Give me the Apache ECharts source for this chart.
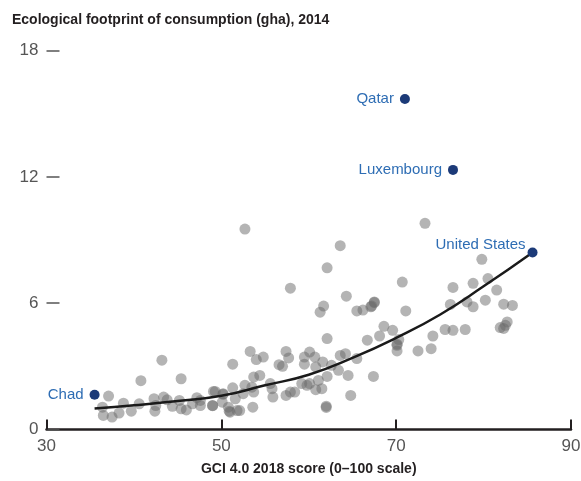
<!DOCTYPE html>
<html>
<head>
<meta charset="utf-8">
<script src="https://cdn.jsdelivr.net/npm/echarts@6/dist/echarts.min.js"></script>
<style>
  html, body { margin: 0; padding: 0; background: #fff; }
  #main { width: 581px; height: 481px; }
</style>
</head>
<body>
<div id="main"></div>
<script>
// GCI score (x) / ecological footprint (y), other countries
var gciScores = [37.1, 36.4, 36.5, 37.5, 38.3, 38.8, 39.7, 40.6, 40.8, 43.2, 42.4, 42.3, 42.5, 43.4, 43.8, 44.4,
    45.4, 45.2, 45.4, 46.0, 46.7, 47.2, 47.6, 49.0, 49.3, 50.2, 50.1, 50.9, 51.3, 51.3, 51.6, 51.8,
    52.7, 63.6, 62.1, 57.9, 64.3, 61.7, 61.3, 65.5, 66.2, 67.1, 67.5, 68.6, 69.6, 68.1, 66.7, 62.1,
    70.1, 53.3, 54.0, 54.8, 57.4, 57.7, 56.6, 57.0, 60.1, 59.5, 60.7, 59.5, 60.8, 61.6, 62.6, 63.6,
    64.2, 63.4, 64.5, 65.5, 67.4, 53.7, 54.4, 52.7, 53.5, 53.7, 52.5, 55.6, 55.8, 55.9, 57.4, 57.9,
    58.4, 59.2, 59.8, 60.1, 60.8, 61.5, 61.1, 62.1, 64.8, 62.0, 49.1, 50.2, 49.0, 50.8, 51.0, 52.1,
    53.6, 47.6, 70.1, 73.3, 79.8, 70.7, 76.5, 78.8, 80.5, 81.5, 67.5, 67.2, 71.1, 76.2, 78.1, 78.8,
    80.2, 82.3, 83.3, 70.3, 70.1, 74.2, 75.6, 76.5, 77.9, 72.5, 74.0, 81.9, 82.3, 82.7, 82.5, 62.0];
var footprints = [1.59, 1.06, 0.67, 0.59, 0.78, 1.25, 0.87, 1.22, 2.32, 3.29, 0.87, 1.46, 1.14, 1.54, 1.41, 1.10,
    2.41, 1.38, 0.98, 0.93, 1.22, 1.51, 1.14, 1.13, 1.81, 1.67, 1.30, 0.87, 3.10, 1.98, 1.46, 0.90,
    9.52, 8.73, 7.68, 6.71, 6.33, 5.86, 5.57, 5.63, 5.67, 5.83, 6.03, 4.90, 4.71, 4.44, 4.24, 4.32,
    3.73, 3.71, 3.32, 3.44, 3.71, 3.40, 3.08, 3.00, 3.68, 3.44, 3.44, 3.10, 2.97, 3.21, 3.05, 3.52,
    3.60, 2.81, 2.57, 3.37, 2.52, 2.49, 2.57, 2.10, 2.01, 1.78, 1.70, 2.18, 1.94, 1.54, 1.62, 1.78,
    1.78, 2.18, 2.10, 2.18, 1.89, 1.94, 2.33, 2.52, 1.62, 1.11, 1.81, 1.70, 1.14, 1.06, 0.82, 0.90,
    1.06, 1.38, 4.00, 9.79, 8.08, 7.00, 6.75, 6.94, 7.17, 6.62, 6.06, 5.86, 5.63, 5.94, 6.06, 5.83,
    6.14, 5.95, 5.89, 4.27, 4.05, 4.44, 4.75, 4.71, 4.75, 3.73, 3.84, 4.84, 4.80, 5.11, 4.95, 1.05];

// highlighted countries
var namedCountries = ['Qatar', 'Luxembourg', 'United States', 'Chad'];
var namedScores = [71.0, 76.5, 85.6, 35.5];
var namedFootprints = [15.7, 12.33, 8.41, 1.65];

// fitted trend line
var trendX = [35.5, 40, 45, 50, 55, 60, 65, 70, 75, 80, 85.6];
var trendY = [1.0, 1.15, 1.35, 1.6, 2.1, 2.6, 3.4, 4.35, 5.45, 6.8, 8.41];

var xTicks = [30, 50, 70, 90];
var yTicks = [0, 6, 12, 18];

var chart = echarts.init(document.getElementById('main'));

var others = gciScores.map(function (x, i) { return [x, footprints[i]]; });
var named = namedScores.map(function (x, i) {
    return {
        value: [x, namedFootprints[i]],
        name: namedCountries[i],
        label: namedCountries[i] === 'United States'
            ? { position: 'left', distance: 2, offset: [0, -8] }
            : { position: 'left' }
    };
});
var trend = trendX.map(function (x, i) { return [x, trendY[i]]; });

var font = 'Liberation Sans, Arial, sans-serif';

chart.setOption({
    animation: false,
    title: {
        text: 'Ecological footprint of consumption (gha), 2014',
        left: 7,
        top: 8,
        textStyle: { fontFamily: font, fontSize: 14, fontWeight: 'bold', color: '#231f20' }
    },
    grid: { left: 46.5, right: 10, top: 50.5, bottom: 51.5, outerBoundsMode: 'none' },
    xAxis: {
        type: 'value',
        min: 30, max: 90, interval: 20,
        name: 'GCI 4.0 2018 score (0–100 scale)',
        nameLocation: 'middle',
        nameGap: 33,
        nameTextStyle: { fontFamily: font, fontSize: 14, fontWeight: 'bold', color: '#231f20' },
        axisLine: { lineStyle: { color: '#231f20', width: 2.5 } },
        axisTick: { inside: true, length: 10, lineStyle: { color: '#231f20', width: 2 } },
        axisLabel: {
            fontFamily: font, fontSize: 17, color: '#555', margin: 8,
            customValues: xTicks
        },
        splitLine: { show: false }
    },
    yAxis: {
        type: 'value',
        min: 0, max: 18, interval: 6,
        axisLine: { show: false },
        axisTick: { show: true, inside: true, length: 13, lineStyle: { color: '#555', width: 1.5 } },
        axisLabel: {
            fontFamily: font, fontSize: 17, color: '#555', margin: 8,
            customValues: yTicks
        },
        splitLine: { show: false }
    },
    series: [
        {
            type: 'scatter',
            data: others,
            symbolSize: 11,
            itemStyle: { color: 'rgba(105,105,105,0.5)', opacity: 1 },
            z: 2
        },
        {
            type: 'line',
            data: trend,
            smooth: true,
            symbol: 'none',
            lineStyle: { color: '#1a1a1a', width: 2.5 },
            z: 3
        },
        {
            type: 'scatter',
            data: named,
            symbolSize: 10,
            itemStyle: { color: '#1c3a78', opacity: 1 },
            label: {
                show: true,
                formatter: '{b}',
                fontFamily: font,
                fontSize: 15,
                color: '#2e6db4',
                distance: 6
            },
            z: 4
        }
    ]
});
</script>
</body>
</html>
